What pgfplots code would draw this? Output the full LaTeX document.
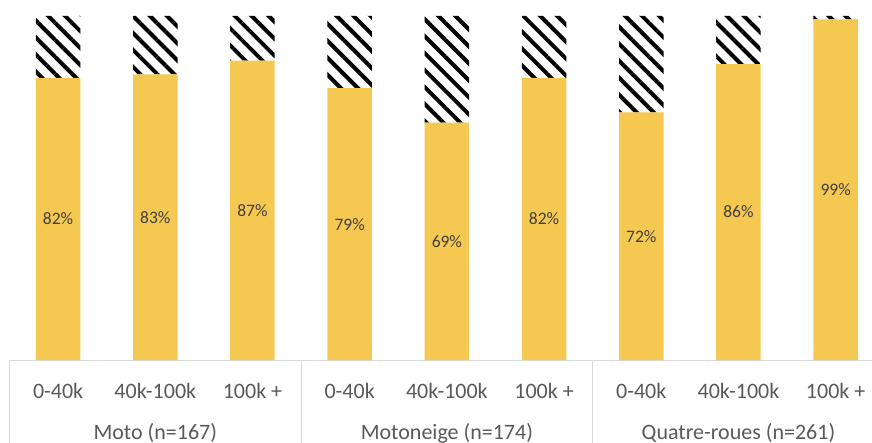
\documentclass[border=0pt]{standalone}
\usepackage{fontspec}
\setmainfont{Carlito}
\usepackage{pgfplots}
\usepackage{pgfplotstable}
\pgfplotsset{compat=1.18}
\usetikzlibrary{patterns.meta}

\definecolor{barfill}{HTML}{F5C851}
\definecolor{axisgrey}{HTML}{D9D9D9}
\definecolor{labelgrey}{HTML}{595959}
\definecolor{datagrey}{HTML}{404040}

% share of respondents per vehicle type and income band (percent)
\pgfplotstableread{
x share rest
0 82 18
1 83 17
2 87 13
3 79 21
4 69 31
5 82 18
6 72 28
7 86 14
8 99 1
}\shares

\pgfplotsset{
  frame/.style={
    at={(0,0)}, anchor=south west,
    scale only axis, width=862.5bp, height=344bp,
    xmin=-0.5, xmax=8.374, ymin=0, ymax=100,
    clip=false,
  },
}

\begin{document}
\begin{tikzpicture}
\begin{axis}[
  frame,
  ybar stacked, bar width=44.5bp,
  axis x line*=bottom, axis y line=none,
  x axis line style={axisgrey, line width=1bp, -},
  xtick={0,...,8},
  xticklabels={0-40k,40k-100k,100k +,0-40k,40k-100k,100k +,0-40k,40k-100k,100k +},
  major tick length=0pt,
  xticklabel style={anchor=base, yshift=-38bp,
    font=\fontsize{22bp}{26bp}\selectfont, text=labelgrey},
]
\addplot[fill=barfill, draw=none] table[x=x, y=share] {\shares};
\addplot[draw=none,
  pattern={Lines[angle=-45, distance=12bp, line width=4bp]},
  pattern color=black,
] table[x=x, y=rest] {\shares};

% group separators below the category axis
\draw[axisgrey, line width=1bp] (axis cs:-0.5,0) -- ([yshift=-83bp]axis cs:-0.5,0);
\draw[axisgrey, line width=1bp] (axis cs:2.5,0) -- ([yshift=-83bp]axis cs:2.5,0);
\draw[axisgrey, line width=1bp] (axis cs:5.5,0) -- ([yshift=-83bp]axis cs:5.5,0);
% group labels
\node[anchor=base, font=\fontsize{22bp}{26bp}\selectfont, text=labelgrey]
  at ([yshift=-79bp]axis cs:1,0) {Moto (n=167)};
\node[anchor=base, font=\fontsize{22bp}{26bp}\selectfont, text=labelgrey]
  at ([yshift=-79bp]axis cs:4,0) {Motoneige (n=174)};
\node[anchor=base, font=\fontsize{22bp}{26bp}\selectfont, text=labelgrey]
  at ([yshift=-79bp]axis cs:7,0) {Quatre-roues (n=261)};
\end{axis}
% value labels, centred in the yellow segments
\begin{axis}[
  frame, hide axis,
  /pgf/number format/assume math mode=true,
]
\addplot[draw=none, mark=none,
  point meta=explicit,
  nodes near coords={\pgfmathprintnumber{\pgfplotspointmeta}\%},
  every node near coord/.style={anchor=center,
    font=\fontsize{17.5bp}{21bp}\selectfont, text=datagrey},
] table[x=x, y expr=\thisrow{share}/2, meta=share] {\shares};
\end{axis}
\pgfresetboundingbox
\path[use as bounding box] (-9.5bp,-83bp) rectangle (862.5bp,360bp);
\end{tikzpicture}
\end{document}
